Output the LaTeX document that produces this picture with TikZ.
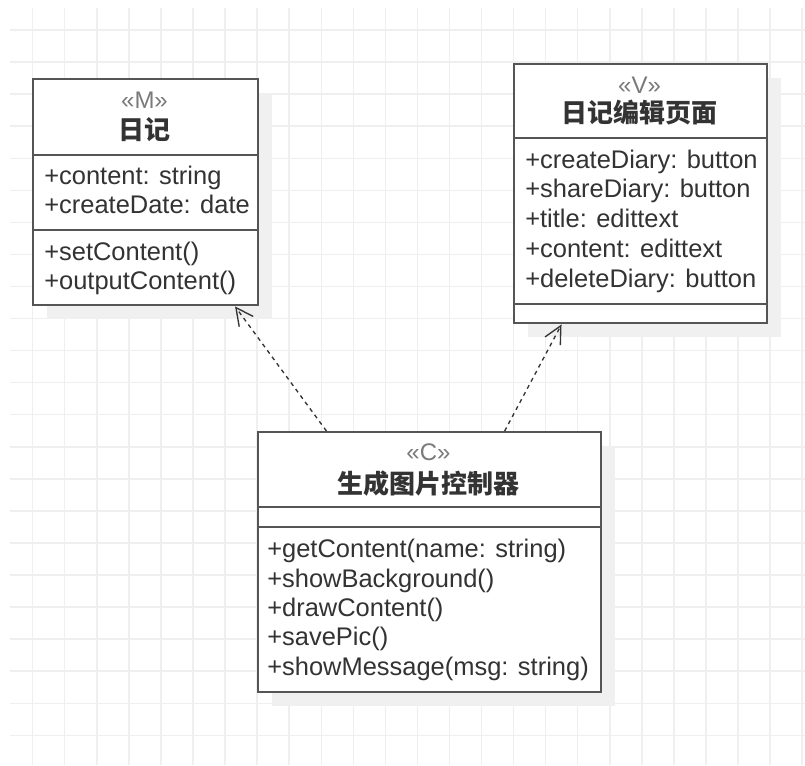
\documentclass[tikz,border=0pt]{standalone}
\usepackage{fontspec}
\setmainfont{Liberation Sans}
\newfontfamily\cjk{Noto Sans CJK SC}
\usepackage{xcolor}
\usepackage{tikz}
\usetikzlibrary{positioning, arrows.meta, calc, shadows}

\definecolor{gridgray}{HTML}{EFEFEF}
\definecolor{shadowgray}{HTML}{F0F0F0}
\definecolor{boxgray}{HTML}{555555}
\definecolor{textgray}{HTML}{333333}
\definecolor{stereogray}{HTML}{7A7A7A}

\tikzset{
    gridline/.style={draw=gridgray, line width=1.1pt},
    classbox/.style={rectangle, draw=boxgray, line width=1.8pt, fill=white, inner sep=0pt, anchor=north west,
        drop shadow={shadow xshift=10.5pt, shadow yshift=-10.5pt, fill=shadowgray, opacity=1}},
    divider/.style={draw=boxgray, line width=1.8pt},
    stereo/.style={text=stereogray, inner sep=0pt, anchor=base, font=\fontsize{18}{20}\selectfont},
    classname/.style={text=textgray, inner sep=0pt, font=\cjk\bfseries\fontsize{19.5}{22}\selectfont},
    member/.style={text=textgray, inner sep=0pt, anchor=base west, font=\fontsize{19.1}{22}\selectfont},
    dep/.style={draw=textgray, line width=1pt, dash pattern=on 3pt off 3pt, -{Straight Barb[length=13pt, width=13pt]}}
}

\begin{document}
\begin{tikzpicture}[x=0.75pt, y=-0.75pt]
        \useasboundingbox (0,0) rectangle (805,765);

        % Background grid
        \foreach \gy in {0,...,22}
            \draw[gridline] (10, {30+32.06*\gy}) -- (805, {30+32.06*\gy});
        \foreach \gx in {0,...,24}
            \draw[gridline] ({32.7+32.06*\gx}, 8) -- ({32.7+32.06*\gx}, 765);

        % Model class (top left)
        \node[classbox, minimum width=168.75pt, minimum height=169.5pt] (m) at (32,78) {};
        \draw[divider] (m.west |- 0,155) -- (m.east |- 0,155);
        \draw[divider] (m.west |- 0,230) -- (m.east |- 0,230);
        \node[stereo] (mst) at (144.5,108) {«M»};
        \node[classname] (mname) at (144.5,130) {日记};
        \node[member] (ma1) at (44,184) {+content: string};
        \node[member] (ma2) at (44,213) {+createDate: date};
        \node[member] (mo1) at (44,260) {+setContent()};
        \node[member] (mo2) at (44,289) {+outputContent()};

        % View class (top right)
        \node[classbox, minimum width=189.75pt, minimum height=194.25pt] (v) at (513,63) {};
        \draw[divider] (v.west |- 0,138) -- (v.east |- 0,138);
        \draw[divider] (v.west |- 0,304) -- (v.east |- 0,304);
        \node[stereo] (vst) at (639.5,93) {«V»};
        \node[classname] (vname) at (639.5,113) {日记编辑页面};
        \node[member] (va1) at (525,168) {+createDiary: button};
        \node[member] (va2) at (525,197) {+shareDiary: button};
        \node[member] (va3) at (525,227) {+title: edittext};
        \node[member] (va4) at (525,257) {+content: edittext};
        \node[member] (va5) at (525,287) {+deleteDiary: button};

        % Controller class (bottom)
        \node[classbox, minimum width=257.25pt, minimum height=195pt] (c) at (257,431) {};
        \draw[divider] (c.west |- 0,507) -- (c.east |- 0,507);
        \draw[divider] (c.west |- 0,527) -- (c.east |- 0,527);
        \node[stereo] (cst) at (428.5,460) {«C»};
        \node[classname] (cname) at (428.5,484) {生成图片控制器};
        \node[member] (co1) at (267,557) {+getContent(name: string)};
        \node[member] (co2) at (267,587) {+showBackground()};
        \node[member] (co3) at (267,616) {+drawContent()};
        \node[member] (co4) at (267,645) {+savePic()};
        \node[member] (co5) at (267,675) {+showMessage(msg: string)};

        % Dependencies from the controller
        \draw[dep] ($(c.north west)!0.201!(c.north east)$) -- ($(m.south west)!0.893!(m.south east)$);
        \draw[dep] ($(c.north west)!0.717!(c.north east)$) -- ($(v.south west)!0.19!(v.south east)$);

\end{tikzpicture}
\end{document}
